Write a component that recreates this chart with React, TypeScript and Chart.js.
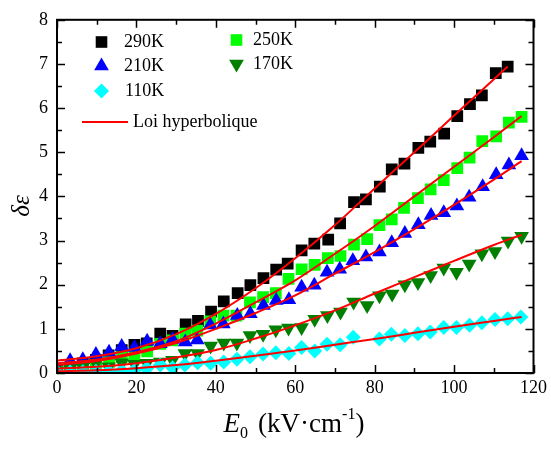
import React, { useEffect, useRef } from "react";
import { Chart, registerables } from "chart.js";
Chart.register(...registerables);

const W = 551;
const H = 452;
const SERIF = "'Liberation Serif', 'Times New Roman', serif";

// 290K (black squares)
const x290 = [0, 3.3, 6.5, 9.8, 13, 16.3, 19.5, 22.6, 26, 29.1, 32.4, 35.5, 38.8, 42, 45.5, 48.7, 52, 55.2, 58.1, 61.6, 64.8, 68.3, 71.3, 74.8, 77.8, 81.3, 84.3, 87.5, 91, 94, 97.5, 100.8, 104, 107, 110.5, 113.5];
const y290 = [0.05, 0.12, 0.22, 0.3, 0.4, 0.52, 0.64, 0.67, 0.89, 0.84, 1.1, 1.18, 1.39, 1.62, 1.81, 1.99, 2.15, 2.34, 2.48, 2.78, 2.93, 3.02, 3.39, 3.87, 3.93, 4.22, 4.61, 4.74, 5.1, 5.24, 5.42, 5.82, 6.09, 6.29, 6.79, 6.94];
// 250K (green squares)
const x250 = [0, 3.3, 6.5, 9.8, 13.1, 16.3, 19.5, 22.7, 26, 29.1, 32.3, 35.3, 38.6, 41.9, 45.2, 48.6, 51.9, 55.1, 58.3, 61.6, 64.9, 68.2, 71.4, 74.8, 78.1, 81.2, 84.3, 87.4, 90.9, 94.1, 97.4, 100.8, 103.9, 107.1, 110.6, 113.8, 117];
const y250 = [0.03, 0.05, 0.12, 0.18, 0.25, 0.36, 0.42, 0.49, 0.66, 0.74, 0.89, 0.96, 1.17, 1.3, 1.3, 1.6, 1.72, 1.81, 2.13, 2.35, 2.45, 2.6, 2.65, 2.91, 3.03, 3.35, 3.48, 3.74, 3.96, 4.16, 4.37, 4.64, 4.88, 5.25, 5.36, 5.67, 5.8];
// 210K (blue triangles)
const x210 = [0, 3.3, 6.5, 9.8, 13.1, 16.3, 19.5, 22.7, 26, 29.1, 32.3, 35.3, 38.6, 41.9, 45.4, 48.7, 52, 55.2, 58.4, 61.6, 64.8, 68, 71.2, 74.5, 77.8, 81.2, 84.3, 87.6, 91, 94.2, 97.4, 100.7, 103.8, 107.2, 110.6, 113.8, 117];
const y210 = [0.1, 0.28, 0.3, 0.42, 0.47, 0.6, 0.58, 0.72, 0.66, 0.76, 0.7, 0.75, 1.09, 1.11, 1.3, 1.34, 1.53, 1.64, 1.66, 1.94, 1.99, 2.28, 2.35, 2.54, 2.63, 2.74, 2.95, 3.16, 3.36, 3.57, 3.63, 3.78, 3.98, 4.22, 4.49, 4.71, 4.92];
// 170K (dark green inverted triangles)
const x170 = [0, 3.3, 6.5, 9.8, 13, 16.3, 19.5, 22.6, 26, 29.1, 32.2, 35.4, 38.7, 42, 45.3, 48.6, 51.9, 55.1, 58.3, 61.6, 64.9, 68.1, 71.4, 74.7, 78.1, 81.2, 84.4, 87.6, 90.9, 94.1, 97.4, 100.6, 103.8, 107, 110.3, 113.6, 117];
const y170 = [0.05, 0.1, 0.14, 0.22, 0.14, 0.23, 0.2, 0.22, 0.25, 0.29, 0.44, 0.44, 0.61, 0.68, 0.68, 0.85, 0.88, 0.98, 1.02, 1.03, 1.22, 1.3, 1.38, 1.61, 1.53, 1.75, 1.79, 2.0, 2.05, 2.21, 2.38, 2.28, 2.47, 2.7, 2.75, 2.99, 3.1];
// 110K (cyan diamonds)
const x110 = [0, 3.3, 6.5, 9.8, 13, 16.3, 19.5, 22.6, 26, 29.1, 32.2, 35.4, 38.7, 42, 45.3, 48.6, 51.9, 55.1, 58.4, 61.6, 64.9, 68, 71.3, 74.6, 81.2, 84.2, 87.6, 90.9, 94, 97.4, 100.6, 103.9, 107, 110.3, 113.5, 116.8];
const y110 = [0.02, 0.02, 0.03, 0.04, 0.04, 0.05, 0.06, 0.1, 0.18, 0.12, 0.18, 0.23, 0.22, 0.25, 0.31, 0.37, 0.43, 0.46, 0.44, 0.58, 0.5, 0.65, 0.64, 0.81, 0.77, 0.88, 0.85, 0.89, 0.93, 1.03, 1.03, 1.08, 1.14, 1.21, 1.23, 1.27];

// Hyperbolic-law fit curves
const fit290X = [0, 10, 20, 30, 40, 50, 60, 70, 80, 90, 100, 113.5];
const fit290Y = [0.28, 0.38, 0.56, 0.88, 1.34, 1.92, 2.6, 3.35, 4.18, 5.0, 5.83, 6.94];
const fitX = [0, 10, 20, 30, 40, 50, 60, 70, 80, 90, 100, 110, 117];
const fit250Y = [0.22, 0.3, 0.47, 0.72, 1.12, 1.6, 2.1, 2.7, 3.33, 4.0, 4.67, 5.34, 5.82];
const fit210Y = [0.18, 0.27, 0.44, 0.68, 1.0, 1.36, 1.76, 2.25, 2.74, 3.26, 3.81, 4.38, 4.8];
const fit170Y = [0.1, 0.14, 0.22, 0.35, 0.52, 0.78, 1.08, 1.42, 1.8, 2.17, 2.54, 2.9, 3.13];
const fit110Y = [0.04, 0.06, 0.11, 0.18, 0.28, 0.39, 0.51, 0.64, 0.77, 0.91, 1.05, 1.18, 1.27];

const legendLabels = ["290K", "210K", "110K", "250K", "170K", "Loi hyperbolique"];
const xTitle = { main: "E", sub: "0", unit: "(kV·cm", sup: "-1", close: ")" };
const yTitle = "δε";

const pts = (xs: number[], ys: number[]) => xs.map((x, i) => ({ x, y: ys[i] }));

const BLACK = "#000000";
const GREEN = "#00ff00";
const BLUE = "#0000ff";
const DGREEN = "#007f00";
const CYAN = "#00ffff";
const RED = "#ff0000";

function marker(ctx: CanvasRenderingContext2D, style: string, x: number, y: number, color: string) {
  ctx.save();
  ctx.fillStyle = color;
  ctx.beginPath();
  if (style === "square") {
    ctx.rect(x - 5.8, y - 5.8, 11.6, 11.6);
  } else if (style === "tri") {
    const r = 8.5;
    ctx.moveTo(x, y - r);
    ctx.lineTo(x + r * 0.866, y + r * 0.5);
    ctx.lineTo(x - r * 0.866, y + r * 0.5);
    ctx.closePath();
  } else if (style === "itri") {
    const r = 8.5;
    ctx.moveTo(x, y + r);
    ctx.lineTo(x + r * 0.866, y - r * 0.5);
    ctx.lineTo(x - r * 0.866, y - r * 0.5);
    ctx.closePath();
  } else if (style === "diamond") {
    const r = 7.5;
    ctx.moveTo(x - r, y);
    ctx.lineTo(x, y - r);
    ctx.lineTo(x + r, y);
    ctx.lineTo(x, y + r);
    ctx.closePath();
  }
  ctx.fill();
  ctx.restore();
}

const framePlugin = {
  id: "frame",
  afterDatasetsDraw(chart: any) {
    const { ctx, chartArea } = chart;
    const { left, right, top, bottom } = chartArea;
    const xs = chart.scales.x;
    const ys = chart.scales.y;
    ctx.save();
    ctx.strokeStyle = "#000";
    ctx.lineWidth = 1.5;
    ctx.beginPath();
    for (let v = 0; v <= 120; v += 10) {
      const px = Math.round(xs.getPixelForValue(v)) + 0.5;
      const len = v % 20 === 0 ? 8 : 5;
      ctx.moveTo(px, bottom);
      ctx.lineTo(px, bottom - len);
      ctx.moveTo(px, top);
      ctx.lineTo(px, top + len);
    }
    for (let v = 0; v <= 8; v += 0.5) {
      const py = Math.round(ys.getPixelForValue(v)) + 0.5;
      const len = Number.isInteger(v) ? 8 : 5;
      ctx.moveTo(left, py);
      ctx.lineTo(left + len, py);
      ctx.moveTo(right, py);
      ctx.lineTo(right - len, py);
    }
    ctx.stroke();
    ctx.lineWidth = 2;
    ctx.strokeRect(left, top, right - left, bottom - top);
    ctx.restore();
  },
  afterDraw(chart: any) {
    const { ctx } = chart;
    ctx.save();
    // Legend
    ctx.fillStyle = "#000";
    ctx.font = `18px ${SERIF}`;
    ctx.textBaseline = "middle";
    ctx.textAlign = "left";
    marker(ctx, "square", 101.5, 42, BLACK);
    ctx.fillText(legendLabels[0], 124, 42);
    marker(ctx, "tri", 101.5, 66, BLUE);
    ctx.fillText(legendLabels[1], 124, 66);
    marker(ctx, "diamond", 101.5, 91, CYAN);
    ctx.fillText(legendLabels[2], 125, 91);
    marker(ctx, "square", 236.5, 40, GREEN);
    ctx.fillText(legendLabels[3], 253, 40);
    marker(ctx, "itri", 236.5, 64, DGREEN);
    ctx.fillText(legendLabels[4], 253, 64);
    ctx.strokeStyle = RED;
    ctx.lineWidth = 2;
    ctx.beginPath();
    ctx.moveTo(82, 122);
    ctx.lineTo(128, 122);
    ctx.stroke();
    ctx.fillStyle = "#000";
    ctx.fillText(legendLabels[5], 133, 122);

    // X title
    ctx.textBaseline = "alphabetic";
    const big = `27px ${SERIF}`;
    const bigI = `italic 27px ${SERIF}`;
    const small = `16px ${SERIF}`;
    const base = 432;
    ctx.font = bigI;
    const wE = ctx.measureText(xTitle.main).width;
    ctx.font = small;
    const wSub = ctx.measureText(xTitle.sub).width;
    const wSup = ctx.measureText(xTitle.sup).width;
    ctx.font = big;
    const wUnit = ctx.measureText(xTitle.unit).width;
    const wClose = ctx.measureText(xTitle.close).width;
    const gap = 10;
    const total = wE + wSub + gap + wUnit + wSup + wClose;
    let cx = 294 - total / 2;
    ctx.font = bigI;
    ctx.fillText(xTitle.main, cx, base);
    cx += wE;
    ctx.font = small;
    ctx.fillText(xTitle.sub, cx, base + 6);
    cx += wSub + gap;
    ctx.font = big;
    ctx.fillText(xTitle.unit, cx, base);
    cx += wUnit;
    ctx.font = small;
    ctx.fillText(xTitle.sup, cx, base - 13);
    cx += wSup;
    ctx.font = big;
    ctx.fillText(xTitle.close, cx, base);

    // Y title
    ctx.translate(22, 206);
    ctx.rotate(-Math.PI / 2);
    ctx.font = `italic 25px ${SERIF}`;
    ctx.textAlign = "center";
    ctx.textBaseline = "middle";
    ctx.fillText(yTitle, 0, 0);
    ctx.restore();
  },
};

export default function App() {
  const ref = useRef<HTMLCanvasElement>(null);
  useEffect(() => {
    const canvas = ref.current!;
    const scatter = (data: any, color: string, style: string, radius: number, order: number, rotation = 0) => ({
      type: "scatter",
      data,
      showLine: false,
      pointStyle: style,
      pointRadius: radius,
      pointHoverRadius: radius,
      pointRotation: rotation,
      pointBackgroundColor: color,
      pointBorderColor: color,
      pointBorderWidth: 0,
      backgroundColor: color,
      borderColor: color,
      order,
      clip: 0,
    });
    const fit = (data: any) => ({
      type: "line",
      data,
      showLine: true,
      borderColor: RED,
      borderWidth: 2,
      pointRadius: 0,
      pointHoverRadius: 0,
      fill: false,
      cubicInterpolationMode: "monotone",
      order: 0,
    });
    const chart = new Chart(canvas, {
      type: "scatter",
      data: {
        datasets: [
          scatter(pts(x290, y290), BLACK, "rect", 8.3, 5),
          scatter(pts(x250, y250), GREEN, "rect", 8.3, 4),
          scatter(pts(x210, y210), BLUE, "triangle", 8.5, 3),
          scatter(pts(x170, y170), DGREEN, "triangle", 8.5, 2, 180),
          scatter(pts(x110, y110), CYAN, "rectRot", 7.5, 1),
          fit(pts(fit290X, fit290Y)),
          fit(pts(fitX, fit250Y)),
          fit(pts(fitX, fit210Y)),
          fit(pts(fitX, fit170Y)),
          fit(pts(fitX, fit110Y)),
        ] as any,
      },
      options: {
        responsive: false,
        animation: false,
        devicePixelRatio: 1,
        layout: { padding: { top: 17, right: 14, left: 0, bottom: 0 } },
        plugins: { legend: { display: false }, tooltip: { enabled: false }, title: { display: false } },
        events: [],
        scales: {
          x: {
            type: "linear",
            position: "bottom",
            min: 0,
            max: 120,
            grid: { display: false, drawTicks: false },
            border: { display: false },
            ticks: { stepSize: 20, color: "#000", font: { family: SERIF, size: 18 }, padding: 4, maxRotation: 0 },
            afterFit: (s: any) => { s.height = 79; },
          },
          y: {
            type: "linear",
            min: 0,
            max: 8,
            grid: { display: false, drawTicks: false },
            border: { display: false },
            ticks: { stepSize: 1, color: "#000", font: { family: SERIF, size: 18 }, padding: 9 },
            afterFit: (s: any) => { s.width = 57; },
          },
        },
      } as any,
      plugins: [framePlugin],
    });
    return () => chart.destroy();
  }, []);
  return (
    <div style={{ position: "absolute", left: 0, top: 0, width: W, height: H, background: "#fff" }}>
      <canvas ref={ref} width={W} height={H} style={{ display: "block", width: W, height: H }} />
    </div>
  );
}
